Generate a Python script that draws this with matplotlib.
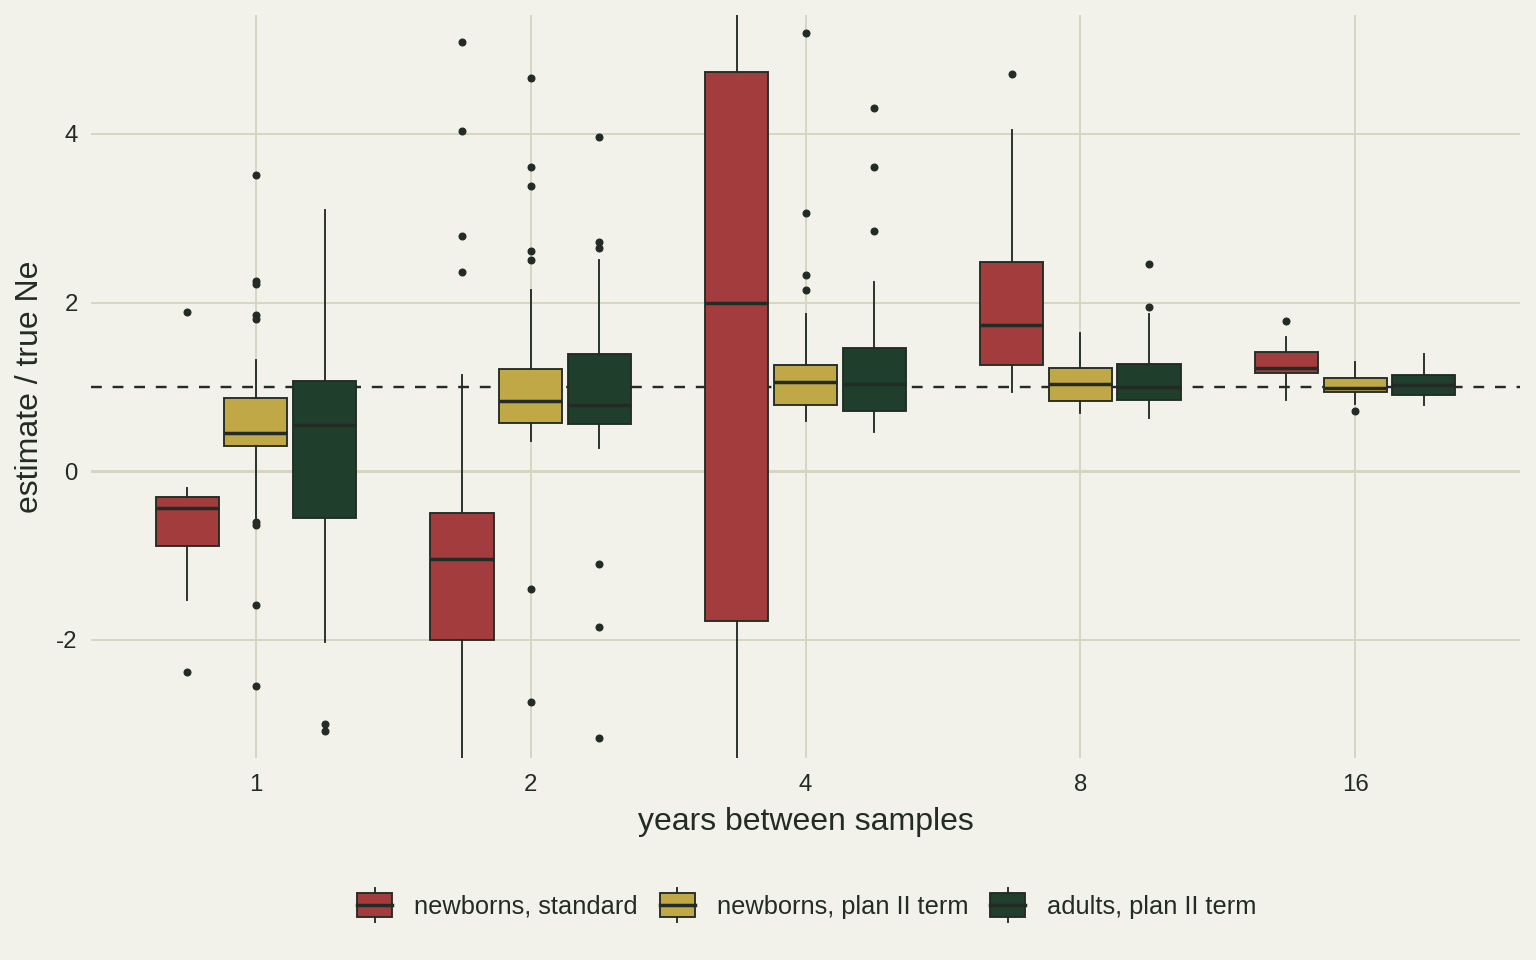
import matplotlib
matplotlib.use("Agg")
import matplotlib.pyplot as plt
from matplotlib.legend_handler import HandlerBase
from matplotlib.patches import Rectangle
from matplotlib.lines import Line2D

plt.rcParams['font.family'] = ['Liberation Sans', 'DejaVu Sans']

years = ['1', '2', '4', '8', '16']
series = ['newborns, standard', 'newborns, plan II term', 'adults, plan II term']
colors = ['#A33D3D', '#BFA845', '#1F3F2C']

# per-year box stats
std_q1 = [-0.89, -2.00, -1.77, 1.26, 1.16]
std_med = [-0.44, -1.04, 1.99, 1.73, 1.23]
std_q3 = [-0.31, -0.50, 4.73, 2.48, 1.41]
std_lo = [-1.53, -4.60, -4.80, 0.94, 0.84]
std_hi = [-0.20, 1.14, 7.20, 4.05, 1.59]
std_out = [[1.89, -2.38], [5.09, 4.03, 2.79, 2.36], [], [4.71], [1.78]]

nb2_q1 = [0.30, 0.57, 0.78, 0.83, 0.94]
nb2_med = [0.45, 0.83, 1.06, 1.03, 0.99]
nb2_q3 = [0.87, 1.21, 1.26, 1.23, 1.10]
nb2_lo = [-0.56, 0.36, 0.59, 0.69, 0.80]
nb2_hi = [1.32, 2.15, 1.87, 1.64, 1.30]
nb2_out = [[3.51, 2.26, 2.22, 1.85, 1.81, -0.60, -0.64, -1.58, -2.55],
           [4.66, 3.61, 3.38, 2.61, 2.51, -1.40, -2.74],
           [5.20, 3.06, 2.33, 2.15], [], [0.71]]

ad2_q1 = [-0.56, 0.56, 0.72, 0.85, 0.90]
ad2_med = [0.55, 0.79, 1.04, 1.00, 1.02]
ad2_q3 = [1.07, 1.39, 1.46, 1.27, 1.14]
ad2_lo = [-2.03, 0.28, 0.47, 0.63, 0.78]
ad2_hi = [3.10, 2.51, 2.25, 1.86, 1.39]
ad2_out = [[-3.00, -3.08], [3.96, 2.72, 2.65, -1.10, -1.85, -3.16],
           [4.31, 3.61, 2.85], [2.46, 1.95], []]

stats_all = [
    (std_q1, std_med, std_q3, std_lo, std_hi, std_out),
    (nb2_q1, nb2_med, nb2_q3, nb2_lo, nb2_hi, nb2_out),
    (ad2_q1, ad2_med, ad2_q3, ad2_lo, ad2_hi, ad2_out),
]

bg = '#F2F1EA'
grid = '#D5D5C3'
ink = '#222B25'

fig = plt.figure(figsize=(16, 10), dpi=96, facecolor=bg)
ax = fig.add_axes([91 / 1536, 1 - 758 / 960, (1520 - 91) / 1536, (758 - 15) / 960])
ax.set_facecolor(bg)

offsets = [-0.25, 0.0, 0.25]
for k, (q1, med, q3, lo, hi, out) in enumerate(stats_all):
    st = [dict(q1=q1[i], med=med[i], q3=q3[i], whislo=lo[i], whishi=hi[i], fliers=out[i])
          for i in range(len(years))]
    pos = [i + offsets[k] for i in range(len(years))]
    ax.bxp(st, positions=pos, widths=0.23, patch_artist=True, showcaps=False,
           boxprops=dict(facecolor=colors[k], edgecolor=ink, linewidth=1.4),
           medianprops=dict(color=ink, linewidth=2.6, solid_capstyle='butt'),
           whiskerprops=dict(color=ink, linewidth=1.4),
           flierprops=dict(marker='o', markerfacecolor=ink, markeredgecolor=ink, markersize=5),
           zorder=3)

ax.axhline(1, color=ink, linewidth=1.8, linestyle=(0, (4.5, 4.5)), zorder=2)
ax.axhline(0, color=grid, linewidth=2.2, zorder=0)

ax.set_xlim(-0.6, len(years) - 0.4)
ax.set_ylim(-3.40, 5.41)
ax.set_xticks(range(len(years)))
ax.set_xticklabels(years)
ax.set_yticks([-2, 0, 2, 4])
ax.set_yticklabels(['-2', '0', '2', '4'])
ax.grid(True, color=grid, linewidth=1.4, zorder=0)
ax.set_axisbelow(True)
for s in ax.spines.values():
    s.set_visible(False)
ax.tick_params(length=0, labelsize=18, labelcolor=ink, pad=10)
ax.tick_params(axis='x', pad=12)
ax.set_xlabel('years between samples', fontsize=24, color=ink, labelpad=8)
ax.set_ylabel('estimate / true Ne', fontsize=24, color=ink, labelpad=8)


class BoxKey(HandlerBase):
    def create_artists(self, legend, orig_handle, xdescent, ydescent, width, height, fontsize, trans):
        x0, y0 = -xdescent, -ydescent
        xm = x0 + width / 2
        top = Line2D([xm, xm], [y0 + height, y0 + height * 1.22], color=ink, lw=1.4, transform=trans)
        bot = Line2D([xm, xm], [y0, y0 - height * 0.22], color=ink, lw=1.4, transform=trans)
        box = Rectangle((x0, y0), width, height, facecolor=orig_handle.get_facecolor(),
                        edgecolor=ink, lw=1.4, transform=trans)
        mid = Line2D([x0, x0 + width], [y0 + height / 2] * 2, color=ink, lw=2.6, transform=trans)
        return [top, bot, box, mid]


handles = [Rectangle((0, 0), 1, 1, facecolor=c) for c in colors]
fig.legend(handles, series, handler_map={Rectangle: BoxKey()}, loc='center',
           bbox_to_anchor=(807 / 1536, 1 - 906 / 960), ncol=3, frameon=False,
           fontsize=19, labelcolor=ink, handlelength=1.38, handleheight=1.05,
           handletextpad=0.87, columnspacing=0.87)

fig.savefig('out.png', dpi=96, facecolor=bg)
